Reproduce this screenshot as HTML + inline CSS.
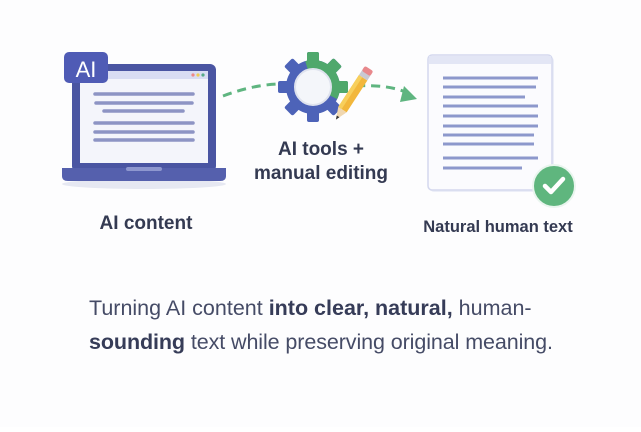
<!DOCTYPE html>
<html><head><style>
body{margin:0;background:#fff;}
svg text{font-family:"Liberation Sans",sans-serif;}
</style></head><body>
<svg width="641" height="427" viewBox="0 0 641 427" xmlns="http://www.w3.org/2000/svg">
<defs>
<g id="gear">
<circle r="27"/>
<rect id="t" x="-6" y="-35" width="12" height="12" rx="2"/>
<use href="#t" transform="rotate(45)"/><use href="#t" transform="rotate(90)"/><use href="#t" transform="rotate(135)"/>
<use href="#t" transform="rotate(180)"/><use href="#t" transform="rotate(225)"/><use href="#t" transform="rotate(270)"/><use href="#t" transform="rotate(315)"/>
</g>
<clipPath id="gc"><path d="M-12 -40 L0 -40 L40 -40 L40 20 L0 0Z"/></clipPath>
</defs>
<rect width="641" height="427" fill="#fdfdfe"/>
<!-- laptop -->
<ellipse cx="144" cy="184" rx="82" ry="5" fill="#e6e8f2"/>
<rect x="72" y="64" width="144" height="108" rx="6" fill="#4a55a2"/>
<rect x="80" y="71" width="128" height="92" fill="#f4f5fb"/>
<rect x="80" y="71" width="128" height="8" fill="#d9ddf3"/>
<circle cx="193" cy="75" r="1.6" fill="#e88"/><circle cx="198" cy="75" r="1.6" fill="#ec5"/><circle cx="203" cy="75" r="1.6" fill="#5a8"/>
<path d="M62 168 H226 V176 Q226 181 220 181 H68 Q62 181 62 176Z" fill="#5560ad"/>
<rect x="126" y="167" width="36" height="4" rx="2" fill="#8e97cf"/>
<g stroke="#8d94c4" stroke-width="3.5" stroke-linecap="round">
<line x1="95" y1="94" x2="193" y2="94"/><line x1="96" y1="103" x2="192" y2="103"/>
<line x1="104" y1="111" x2="183" y2="111"/><line x1="95" y1="123" x2="193" y2="123"/>
<line x1="95" y1="132" x2="193" y2="132"/><line x1="95" y1="140" x2="193" y2="140"/>
</g>
<rect x="64" y="52" width="44" height="31" rx="5" fill="#4f5bb5"/>
<text x="86" y="77" font-size="22" fill="#fff" text-anchor="middle">AI</text>
<!-- dashed arrows -->
<path d="M223 96 Q255 84 282 84" fill="none" stroke="#5fb580" stroke-width="3" stroke-dasharray="9 6"/>
<path d="M356 86 Q390 84 410 94" fill="none" stroke="#5fb580" stroke-width="3" stroke-dasharray="9 6"/>
<path d="M404 86 L417 99 L400 102Z" fill="#5fb580"/>
<!-- gear -->
<g transform="translate(313,87)">
<use href="#gear" fill="#4d63b8"/>
<use href="#gear" fill="#4fa86c" clip-path="url(#gc)"/>
<circle r="18" fill="#f4f6fa" stroke="#dfe3ee" stroke-width="2"/>
</g>
<!-- pencil -->
<g transform="translate(337,118) rotate(33)">
<rect x="-5" y="-48" width="10" height="38" fill="#f2b73c"/>
<rect x="-5" y="-48" width="4" height="38" fill="#f7cf5c"/>
<rect x="-5" y="-54" width="10" height="6" fill="#c9c9d2"/>
<rect x="-5" y="-59" width="10" height="6" rx="2" fill="#e8888c"/>
<path d="M-5 -10 L5 -10 L0 2Z" fill="#f0d7b0"/>
<path d="M-1.6 -2 L1.6 -2 L0 2Z" fill="#333"/>
</g>
<!-- document -->
<rect x="430" y="57" width="124" height="135" rx="4" fill="#eceef8"/>
<rect x="428" y="55" width="124" height="135" rx="4" fill="#fbfbfe" stroke="#d4d8ee" stroke-width="1.5"/>
<rect x="429" y="56" width="122" height="8" fill="#e3e6f5"/>
<g stroke="#8d98cc" stroke-width="3">
<line x1="443" y1="78" x2="538" y2="78"/><line x1="443" y1="87" x2="536" y2="87"/>
<line x1="443" y1="97" x2="525" y2="97"/><line x1="443" y1="106" x2="538" y2="106"/>
<line x1="443" y1="116" x2="538" y2="116"/><line x1="443" y1="126" x2="538" y2="126"/>
<line x1="443" y1="135" x2="534" y2="135"/><line x1="443" y1="144" x2="534" y2="144"/>
<line x1="443" y1="158" x2="538" y2="158"/><line x1="443" y1="168" x2="522" y2="168"/>
</g>
<circle cx="554" cy="186" r="21" fill="#5fb67e" stroke="#e9f5ee" stroke-width="2"/>
<path d="M545 186 L551 192 L563 179" fill="none" stroke="#fff" stroke-width="4.5" stroke-linecap="round" stroke-linejoin="round"/>
<!-- labels -->
<text x="146" y="229" font-size="19" font-weight="bold" fill="#343a52" text-anchor="middle">AI content</text>
<text x="321" y="155" font-size="19" font-weight="bold" fill="#343a52" text-anchor="middle">AI tools +</text>
<text x="321" y="179" font-size="19" font-weight="bold" fill="#343a52" text-anchor="middle">manual editing</text>
<text x="498" y="232" font-size="16.5" font-weight="bold" fill="#343a52" text-anchor="middle">Natural human text</text>
<text x="89" y="315" font-size="21.5" fill="#454b66">Turning AI content <tspan font-weight="bold" fill="#363c58">into clear, natural,</tspan> human-</text>
<text x="89" y="349" font-size="21.5" fill="#454b66" textLength="464"><tspan font-weight="bold" fill="#363c58">sounding</tspan> text while preserving original meaning.</text>
</svg>
</body></html>
